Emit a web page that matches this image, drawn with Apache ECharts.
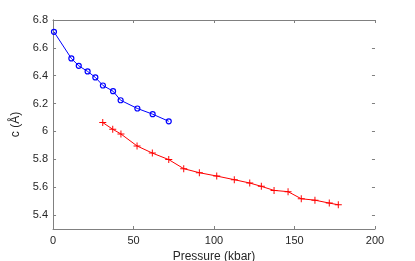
<!DOCTYPE html>
<html><head><meta charset="utf-8">
<script src="https://cdn.jsdelivr.net/npm/echarts@6/dist/echarts.min.js"></script>
<style>html,body{margin:0;padding:0;background:#fff}#c{width:415px;height:261px}</style>
</head><body><div id="c"></div>
<script>
const bluePressure = [0.6, 11.4, 16, 21.5, 26.3, 31, 37.3, 42, 52.4, 61.9, 71.9];
const blueC = [6.715, 6.524, 6.471, 6.431, 6.388, 6.330, 6.289, 6.224, 6.165, 6.124, 6.073];
const redPressure = [30.9, 37.1, 42.2, 52.2, 61.7, 71.9, 81.2, 90.9, 101.7, 112.6, 122.2, 129.4, 137.3, 146, 154.2, 162.7, 171.6, 177.2];
const redC = [6.064, 6.016, 5.982, 5.896, 5.845, 5.798, 5.733, 5.704, 5.680, 5.654, 5.630, 5.606, 5.577, 5.568, 5.517, 5.507, 5.486, 5.474];
const xTicks = [0, 50, 100, 150, 200];
const yTicks = [5.4, 5.6, 5.8, 6, 6.2, 6.4, 6.6, 6.8];

const font = 'Liberation Sans, Arial, sans-serif';
const chart = echarts.init(document.getElementById('c'), null, {renderer: 'canvas'});
const axisLineGrey = {show: true, lineStyle: {color: '#808080', width: 1}};
const zip = (a, b) => a.map((v, i) => [v, b[i]]);
chart.setOption({
  animation: false,
  backgroundColor: '#fff',
  grid: {left: 53, right: 40, top: 20, bottom: 32, containLabel: false, outerBoundsMode: 'none'},
  xAxis: [{
    type: 'value', min: 0, max: 200, interval: 50,
    name: 'Pressure (kbar)', nameLocation: 'middle', nameGap: 19,
    nameTextStyle: {fontFamily: font, fontSize: 12, color: '#262626'},
    axisLine: axisLineGrey,
    axisTick: {show: true, inside: true, length: 3, lineStyle: {color: '#808080'}},
    axisLabel: {fontFamily: font, fontSize: 11, color: '#262626', margin: 6,
      formatter: v => xTicks.includes(v) ? String(v) : ''},
    splitLine: {show: false}
  }, {
    type: 'value', min: 0, max: 200, interval: 50, position: 'top',
    axisLine: axisLineGrey,
    axisTick: {show: true, inside: true, length: 3, lineStyle: {color: '#808080'}},
    axisLabel: {show: false}, splitLine: {show: false}
  }],
  yAxis: [{
    type: 'value', min: 5.3, max: 6.8, interval: 0.1,
    name: 'c (Å)', nameLocation: 'middle', nameGap: 23, nameRotate: 90,
    nameTextStyle: {fontFamily: font, fontSize: 12, color: '#262626'},
    axisLine: axisLineGrey,
    axisTick: {show: false},
    axisLabel: {fontFamily: font, fontSize: 11, color: '#262626', margin: 5,
      formatter: v => { const r = Math.round(v * 10) / 10; return yTicks.some(t => Math.abs(t - r) < 1e-6) ? String(r) : ''; }},
    splitLine: {show: false}
  }, {
    type: 'value', min: 5.3, max: 6.8, interval: 0.1, position: 'right',
    axisLine: axisLineGrey,
    axisTick: {show: false},
    axisLabel: {show: false}, splitLine: {show: false}
  }],
  series: [{
    type: 'line', data: zip(bluePressure, blueC),
    symbol: 'circle', symbolSize: 5, showAllSymbol: true,
    lineStyle: {color: '#0000ff', width: 1},
    itemStyle: {color: 'rgba(0,0,0,0)', borderColor: '#0000ff', borderWidth: 1.2}
  }, {
    type: 'line', data: zip(redPressure, redC),
    symbol: 'path://M4.3,0H5.7V4.3H10V5.7H5.7V10H4.3V5.7H0V4.3H4.3Z', symbolSize: 7, showAllSymbol: true,
    lineStyle: {color: '#ff0000', width: 1},
    itemStyle: {color: '#ff0000'}
  }, {
    type: 'scatter', yAxisIndex: 0, silent: true, symbolSize: 0,
    data: yTicks.map(t => [0, t]),
    markLine: {silent: true, symbol: 'none', label: {show: false},
      lineStyle: {color: '#808080', width: 1, type: 'solid'},
      data: yTicks.flatMap(t => [
        [{coord: [0, t]}, {coord: [1.9, t]}],
        [{coord: [198.1, t]}, {coord: [200, t]}]
      ])}
  }]
});
</script></body></html>
